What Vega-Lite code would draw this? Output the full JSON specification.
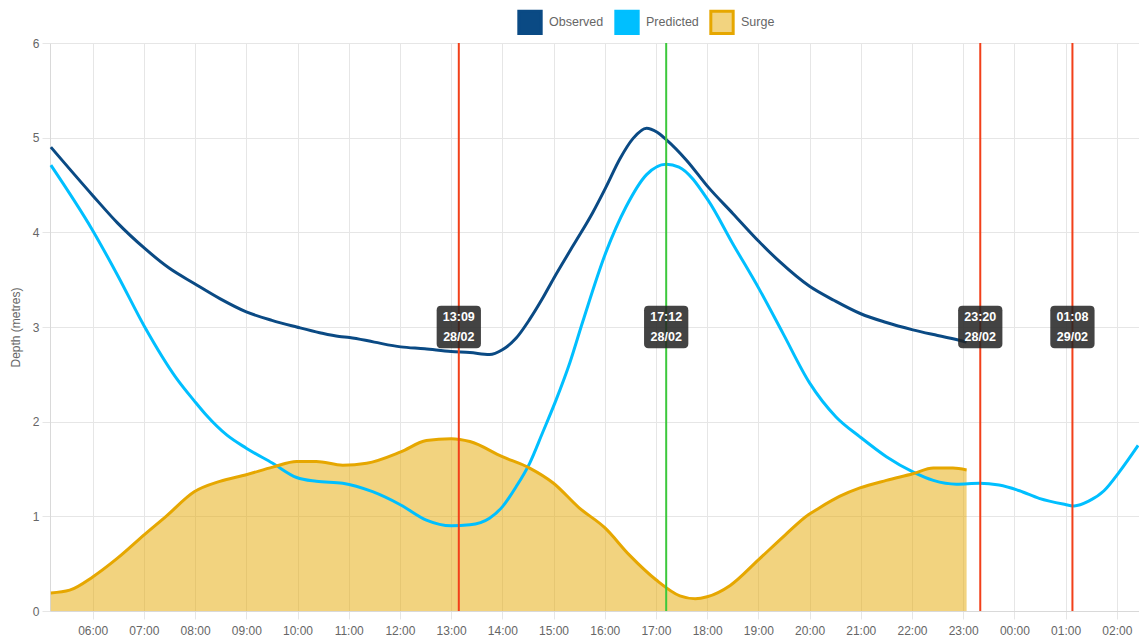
{
  "$schema": "https://vega.github.io/schema/vega-lite/v6.json",
  "autosize": "none",
  "width": 1089,
  "height": 568,
  "padding": {"left": 50, "top": 43, "right": 0, "bottom": 29},
  "config": {
    "font": "Liberation Sans",
    "view": {"stroke": null},
    "axis": {"labelColor": "#666666", "labelFontSize": 12, "gridColor": "#e6e6e6", "domainColor": "#d9d9d9", "tickColor": "#e6e6e6", "titleColor": "#666666", "titleFontWeight": "normal", "titleFontSize": 12}
  },
  "datasets": {
    "tide": [
      {"t": "2024-02-28T05:11", "series": "Observed", "v": 4.90},
      {"t": "2024-02-28T06:00", "series": "Observed", "v": 4.39},
      {"t": "2024-02-28T06:29", "series": "Observed", "v": 4.10},
      {"t": "2024-02-28T07:01", "series": "Observed", "v": 3.83},
      {"t": "2024-02-28T07:30", "series": "Observed", "v": 3.62},
      {"t": "2024-02-28T07:59", "series": "Observed", "v": 3.46},
      {"t": "2024-02-28T08:29", "series": "Observed", "v": 3.30},
      {"t": "2024-02-28T09:00", "series": "Observed", "v": 3.16},
      {"t": "2024-02-28T09:30", "series": "Observed", "v": 3.07},
      {"t": "2024-02-28T09:59", "series": "Observed", "v": 3.00},
      {"t": "2024-02-28T10:26", "series": "Observed", "v": 2.94},
      {"t": "2024-02-28T10:49", "series": "Observed", "v": 2.90},
      {"t": "2024-02-28T11:01", "series": "Observed", "v": 2.89},
      {"t": "2024-02-28T11:30", "series": "Observed", "v": 2.84},
      {"t": "2024-02-28T12:01", "series": "Observed", "v": 2.79},
      {"t": "2024-02-28T12:29", "series": "Observed", "v": 2.77},
      {"t": "2024-02-28T13:00", "series": "Observed", "v": 2.74},
      {"t": "2024-02-28T13:22", "series": "Observed", "v": 2.73},
      {"t": "2024-02-28T13:45", "series": "Observed", "v": 2.71},
      {"t": "2024-02-28T14:00", "series": "Observed", "v": 2.76},
      {"t": "2024-02-28T14:16", "series": "Observed", "v": 2.88},
      {"t": "2024-02-28T14:32", "series": "Observed", "v": 3.08},
      {"t": "2024-02-28T14:47", "series": "Observed", "v": 3.30},
      {"t": "2024-02-28T15:00", "series": "Observed", "v": 3.51},
      {"t": "2024-02-28T15:23", "series": "Observed", "v": 3.86},
      {"t": "2024-02-28T15:46", "series": "Observed", "v": 4.21},
      {"t": "2024-02-28T16:01", "series": "Observed", "v": 4.47},
      {"t": "2024-02-28T16:18", "series": "Observed", "v": 4.78},
      {"t": "2024-02-28T16:33", "series": "Observed", "v": 4.99},
      {"t": "2024-02-28T16:49", "series": "Observed", "v": 5.10},
      {"t": "2024-02-28T17:01", "series": "Observed", "v": 5.06},
      {"t": "2024-02-28T17:12", "series": "Observed", "v": 4.98},
      {"t": "2024-02-28T17:36", "series": "Observed", "v": 4.76},
      {"t": "2024-02-28T18:01", "series": "Observed", "v": 4.48},
      {"t": "2024-02-28T18:30", "series": "Observed", "v": 4.20},
      {"t": "2024-02-28T19:01", "series": "Observed", "v": 3.90},
      {"t": "2024-02-28T19:25", "series": "Observed", "v": 3.69},
      {"t": "2024-02-28T20:00", "series": "Observed", "v": 3.43},
      {"t": "2024-02-28T20:29", "series": "Observed", "v": 3.28},
      {"t": "2024-02-28T21:00", "series": "Observed", "v": 3.14},
      {"t": "2024-02-28T21:29", "series": "Observed", "v": 3.05},
      {"t": "2024-02-28T22:01", "series": "Observed", "v": 2.97},
      {"t": "2024-02-28T22:30", "series": "Observed", "v": 2.91},
      {"t": "2024-02-28T23:00", "series": "Observed", "v": 2.85},
      {"t": "2024-02-28T23:04", "series": "Observed", "v": 2.84},
      {"t": "2024-02-28T05:11", "series": "Predicted", "v": 4.71},
      {"t": "2024-02-28T06:00", "series": "Predicted", "v": 4.02},
      {"t": "2024-02-28T06:29", "series": "Predicted", "v": 3.55},
      {"t": "2024-02-28T07:01", "series": "Predicted", "v": 3.00},
      {"t": "2024-02-28T07:38", "series": "Predicted", "v": 2.46},
      {"t": "2024-02-28T07:59", "series": "Predicted", "v": 2.22},
      {"t": "2024-02-28T08:13", "series": "Predicted", "v": 2.07},
      {"t": "2024-02-28T08:37", "series": "Predicted", "v": 1.86},
      {"t": "2024-02-28T09:00", "series": "Predicted", "v": 1.72},
      {"t": "2024-02-28T09:31", "series": "Predicted", "v": 1.56},
      {"t": "2024-02-28T09:59", "series": "Predicted", "v": 1.41},
      {"t": "2024-02-28T10:22", "series": "Predicted", "v": 1.37},
      {"t": "2024-02-28T10:53", "series": "Predicted", "v": 1.35},
      {"t": "2024-02-28T11:28", "series": "Predicted", "v": 1.26},
      {"t": "2024-02-28T12:01", "series": "Predicted", "v": 1.12},
      {"t": "2024-02-28T12:31", "series": "Predicted", "v": 0.96},
      {"t": "2024-02-28T13:00", "series": "Predicted", "v": 0.90},
      {"t": "2024-02-28T13:22", "series": "Predicted", "v": 0.91},
      {"t": "2024-02-28T13:45", "series": "Predicted", "v": 0.98},
      {"t": "2024-02-28T14:00", "series": "Predicted", "v": 1.10},
      {"t": "2024-02-28T14:16", "series": "Predicted", "v": 1.31},
      {"t": "2024-02-28T14:32", "series": "Predicted", "v": 1.56},
      {"t": "2024-02-28T14:47", "series": "Predicted", "v": 1.88},
      {"t": "2024-02-28T15:03", "series": "Predicted", "v": 2.23},
      {"t": "2024-02-28T15:19", "series": "Predicted", "v": 2.62},
      {"t": "2024-02-28T15:34", "series": "Predicted", "v": 3.05},
      {"t": "2024-02-28T16:01", "series": "Predicted", "v": 3.78},
      {"t": "2024-02-28T16:25", "series": "Predicted", "v": 4.27},
      {"t": "2024-02-28T16:49", "series": "Predicted", "v": 4.61},
      {"t": "2024-02-28T17:12", "series": "Predicted", "v": 4.72},
      {"t": "2024-02-28T17:27", "series": "Predicted", "v": 4.69},
      {"t": "2024-02-28T18:01", "series": "Predicted", "v": 4.34},
      {"t": "2024-02-28T18:30", "series": "Predicted", "v": 3.88},
      {"t": "2024-02-28T19:01", "series": "Predicted", "v": 3.40},
      {"t": "2024-02-28T19:29", "series": "Predicted", "v": 2.93},
      {"t": "2024-02-28T20:00", "series": "Predicted", "v": 2.41},
      {"t": "2024-02-28T20:31", "series": "Predicted", "v": 2.05},
      {"t": "2024-02-28T20:59", "series": "Predicted", "v": 1.84},
      {"t": "2024-02-28T21:30", "series": "Predicted", "v": 1.63},
      {"t": "2024-02-28T22:01", "series": "Predicted", "v": 1.47},
      {"t": "2024-02-28T22:25", "series": "Predicted", "v": 1.38},
      {"t": "2024-02-28T22:52", "series": "Predicted", "v": 1.34},
      {"t": "2024-02-28T23:19", "series": "Predicted", "v": 1.35},
      {"t": "2024-02-28T23:42", "series": "Predicted", "v": 1.33},
      {"t": "2024-02-29T00:06", "series": "Predicted", "v": 1.27},
      {"t": "2024-02-29T00:29", "series": "Predicted", "v": 1.19},
      {"t": "2024-02-29T00:57", "series": "Predicted", "v": 1.13},
      {"t": "2024-02-29T01:10", "series": "Predicted", "v": 1.11},
      {"t": "2024-02-29T01:27", "series": "Predicted", "v": 1.16},
      {"t": "2024-02-29T01:45", "series": "Predicted", "v": 1.27},
      {"t": "2024-02-29T02:03", "series": "Predicted", "v": 1.47},
      {"t": "2024-02-29T02:25", "series": "Predicted", "v": 1.75},
      {"t": "2024-02-28T05:11", "series": "Surge", "v": 0.19},
      {"t": "2024-02-28T05:33", "series": "Surge", "v": 0.22},
      {"t": "2024-02-28T06:00", "series": "Surge", "v": 0.36},
      {"t": "2024-02-28T06:28", "series": "Surge", "v": 0.55},
      {"t": "2024-02-28T07:01", "series": "Surge", "v": 0.81},
      {"t": "2024-02-28T07:26", "series": "Surge", "v": 1.00},
      {"t": "2024-02-28T07:59", "series": "Surge", "v": 1.26},
      {"t": "2024-02-28T08:29", "series": "Surge", "v": 1.37},
      {"t": "2024-02-28T09:00", "series": "Surge", "v": 1.44},
      {"t": "2024-02-28T09:31", "series": "Surge", "v": 1.52},
      {"t": "2024-02-28T09:59", "series": "Surge", "v": 1.58},
      {"t": "2024-02-28T10:22", "series": "Surge", "v": 1.58},
      {"t": "2024-02-28T10:53", "series": "Surge", "v": 1.54},
      {"t": "2024-02-28T11:21", "series": "Surge", "v": 1.56},
      {"t": "2024-02-28T12:01", "series": "Surge", "v": 1.68},
      {"t": "2024-02-28T12:31", "series": "Surge", "v": 1.80},
      {"t": "2024-02-28T13:00", "series": "Surge", "v": 1.82},
      {"t": "2024-02-28T13:22", "series": "Surge", "v": 1.79},
      {"t": "2024-02-28T14:00", "series": "Surge", "v": 1.63},
      {"t": "2024-02-28T14:32", "series": "Surge", "v": 1.51},
      {"t": "2024-02-28T15:00", "series": "Surge", "v": 1.35},
      {"t": "2024-02-28T15:30", "series": "Surge", "v": 1.09},
      {"t": "2024-02-28T16:00", "series": "Surge", "v": 0.88},
      {"t": "2024-02-28T16:29", "series": "Surge", "v": 0.59},
      {"t": "2024-02-28T17:00", "series": "Surge", "v": 0.33},
      {"t": "2024-02-28T17:28", "series": "Surge", "v": 0.16},
      {"t": "2024-02-28T17:46", "series": "Surge", "v": 0.13},
      {"t": "2024-02-28T18:00", "series": "Surge", "v": 0.15},
      {"t": "2024-02-28T18:27", "series": "Surge", "v": 0.27},
      {"t": "2024-02-28T19:00", "series": "Surge", "v": 0.54},
      {"t": "2024-02-28T19:31", "series": "Surge", "v": 0.80},
      {"t": "2024-02-28T19:59", "series": "Surge", "v": 1.02},
      {"t": "2024-02-28T20:08", "series": "Surge", "v": 1.07},
      {"t": "2024-02-28T20:35", "series": "Surge", "v": 1.21},
      {"t": "2024-02-28T20:59", "series": "Surge", "v": 1.30},
      {"t": "2024-02-28T21:30", "series": "Surge", "v": 1.38},
      {"t": "2024-02-28T22:01", "series": "Surge", "v": 1.45},
      {"t": "2024-02-28T22:25", "series": "Surge", "v": 1.51},
      {"t": "2024-02-28T22:48", "series": "Surge", "v": 1.51},
      {"t": "2024-02-28T23:04", "series": "Surge", "v": 1.49}
    ],
    "events": [
      {"t": "2024-02-28T13:09", "kind": "marker", "label": "13:09\n28/02", "y": 3},
      {"t": "2024-02-28T17:12", "kind": "now", "label": "17:12\n28/02", "y": 3},
      {"t": "2024-02-28T23:20", "kind": "marker", "label": "23:20\n28/02", "y": 3},
      {"t": "2024-02-29T01:08", "kind": "marker", "label": "01:08\n29/02", "y": 3}
    ]
  },
  "layer": [
    {
      "data": {"name": "tide"},
      "transform": [{"filter": "datum.series === 'Surge'"}],
      "mark": {"type": "area", "interpolate": "monotone", "fillOpacity": 0.5},
      "encoding": {
        "x": {
          "field": "t", "type": "temporal",
          "scale": {"domain": ["2024-02-28T05:10", "2024-02-29T02:26"]},
          "axis": {"title": null, "format": "%H:%M", "tickCount": 24, "tickSize": 8, "labelPadding": 6, "grid": true, "labelFlush": false}
        },
        "y": {"field": "v", "type": "quantitative", "scale": {"domain": [0, 6]}, "axis": {"title": "Depth (metres)", "tickCount": 6, "tickSize": 8, "labelPadding": 3, "titleX": -28}},
        "color": {
          "field": "series", "type": "nominal",
          "scale": {"domain": ["Observed", "Predicted", "Surge"], "range": ["#0a4a84", "#00bfff", "#e6a700"]},
          "legend": {
            "title": null, "orient": "none", "direction": "horizontal", "legendX": 467, "legendY": -34,
            "symbolType": "square", "symbolSize": 500, "labelFontSize": 12.5, "labelColor": "#666666", "labelOffset": 6, "columnPadding": 5,
            "encode": {"symbols": {"update": {
              "fillOpacity": {"signal": "datum.value === 'Surge' ? 0.5 : 1"},
              "stroke": {"signal": "datum.value === 'Surge' ? '#e6a700' : null"},
              "strokeWidth": {"value": 3}
            }}}
          }
        }
      }
    },
    {
      "data": {"name": "tide"},
      "mark": {"type": "line", "interpolate": "monotone", "strokeWidth": 3},
      "encoding": {
        "x": {"field": "t", "type": "temporal"},
        "y": {"field": "v", "type": "quantitative"},
        "color": {"field": "series", "type": "nominal"}
      }
    },
    {
      "data": {"name": "events"},
      "transform": [{"filter": "datum.kind === 'marker'"}],
      "mark": {"type": "rule", "color": "#f2401a", "strokeWidth": 2},
      "encoding": {"x": {"field": "t", "type": "temporal"}}
    },
    {
      "data": {"name": "events"},
      "transform": [{"filter": "datum.kind === 'now'"}],
      "mark": {"type": "rule", "color": "#3cc83c", "strokeWidth": 2},
      "encoding": {"x": {"field": "t", "type": "temporal"}}
    },
    {
      "data": {"name": "events"},
      "mark": {"type": "point", "filled": true, "color": "#222222", "opacity": 0.85, "size": 1960,
        "shape": "M -0.8 -0.96 L 0.8 -0.96 Q 1 -0.96 1 -0.76 L 1 0.76 Q 1 0.96 0.8 0.96 L -0.8 0.96 Q -1 0.96 -1 0.76 L -1 -0.76 Q -1 -0.96 -0.8 -0.96 Z"},
      "encoding": {"x": {"field": "t", "type": "temporal"}, "y": {"field": "y", "type": "quantitative"}}
    },
    {
      "data": {"name": "events"},
      "mark": {"type": "text", "color": "#ffffff", "fontWeight": "bold", "fontSize": 12.5, "lineBreak": "\n", "lineHeight": 20, "baseline": "middle", "align": "center", "dy": -10},
      "encoding": {"x": {"field": "t", "type": "temporal"}, "y": {"field": "y", "type": "quantitative"}, "text": {"field": "label"}}
    }
  ]
}
